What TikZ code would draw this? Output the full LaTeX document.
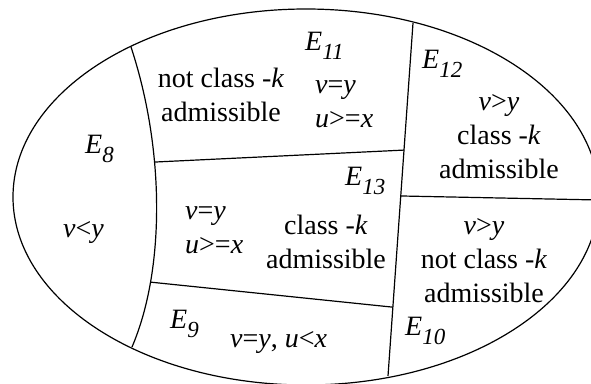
\documentclass[tikz,border=0pt]{standalone}
\usepackage{fontspec}
\setmainfont{Liberation Serif}

\newcommand{\Ereg}[1]{\textit{E}\raisebox{-9pt}{\fontsize{23}{23}\selectfont\textit{#1}}}

\tikzset{
    regtext/.style={font=\fontsize{28}{34}\selectfont, inner sep=0pt},
    border/.style={line width=1.2pt}
}

\begin{document}
\begin{tikzpicture}[x=1pt,y=-1pt]
    \useasboundingbox (0,0) rectangle (591,383);

    % outer ellipse
    \draw[border] (306,197) ellipse [x radius=293pt, y radius=188pt];

    % left curved divider
    \coordinate (lt) at (131,47);
    \coordinate (lb) at (132,347);
    \draw[border] (lt) .. controls (165,150) and (165,270) .. (lb)
        coordinate[pos=0.36] (lj1) coordinate[pos=0.75] (lj2);

    % right divider
    \coordinate (rt) at (413,23);
    \coordinate (rb) at (388,376);
    \draw[border] (rt) -- (rb)
        coordinate[pos=0.36] (rj1) coordinate[pos=0.49] (rj2) coordinate[pos=0.805] (rj3);

    % cross lines
    \coordinate (re) at (599,200);
    \draw[border] (lj1) -- (rj1);
    \draw[border] (rj2) -- (re);
    \draw[border] (lj2) -- (rj3);

    % region names
    \node[regtext, anchor=base west] (e8)  at (85,153)  {\Ereg{8}};
    \node[regtext, anchor=base west] (e9)  at (170,328) {\Ereg{9}};
    \node[regtext, anchor=base west] (e10) at (405,335) {\Ereg{10}};
    \node[regtext, anchor=base west] (e11) at (305,50)  {\Ereg{11}};
    \node[regtext, anchor=base west] (e12) at (422,68)  {\Ereg{12}};
    \node[regtext, anchor=base west] (e13) at (345,185) {\Ereg{13}};

    % conditions
    \node[regtext, align=center] (t11a) at (221,95) {not class -\textit{k}\\admissible};
    \node[regtext, align=left, anchor=west] (t11b) at (315,104) {\textit{v}=\textit{y}\\\textit{u}>=\textit{x}};
    \node[regtext, align=center] (t12) at (499,137) {\textit{v}>\textit{y}\\class -\textit{k}\\admissible};
    \node[regtext, align=left, anchor=west] (t13a) at (185,230) {\textit{v}=\textit{y}\\\textit{u}>=\textit{x}};
    \node[regtext, align=center] (t13b) at (326,242) {class -\textit{k}\\admissible};
    \node[regtext, anchor=base west] (t8) at (63,237) {\textit{v}<\textit{y}};
    \node[regtext, anchor=base west] (t9) at (230,347) {\textit{v}=\textit{y}, \textit{u}<\textit{x}};
    \node[regtext, align=center] (t10) at (484,261) {\textit{v}>\textit{y}\\not class -\textit{k}\\admissible};
\end{tikzpicture}
\end{document}
